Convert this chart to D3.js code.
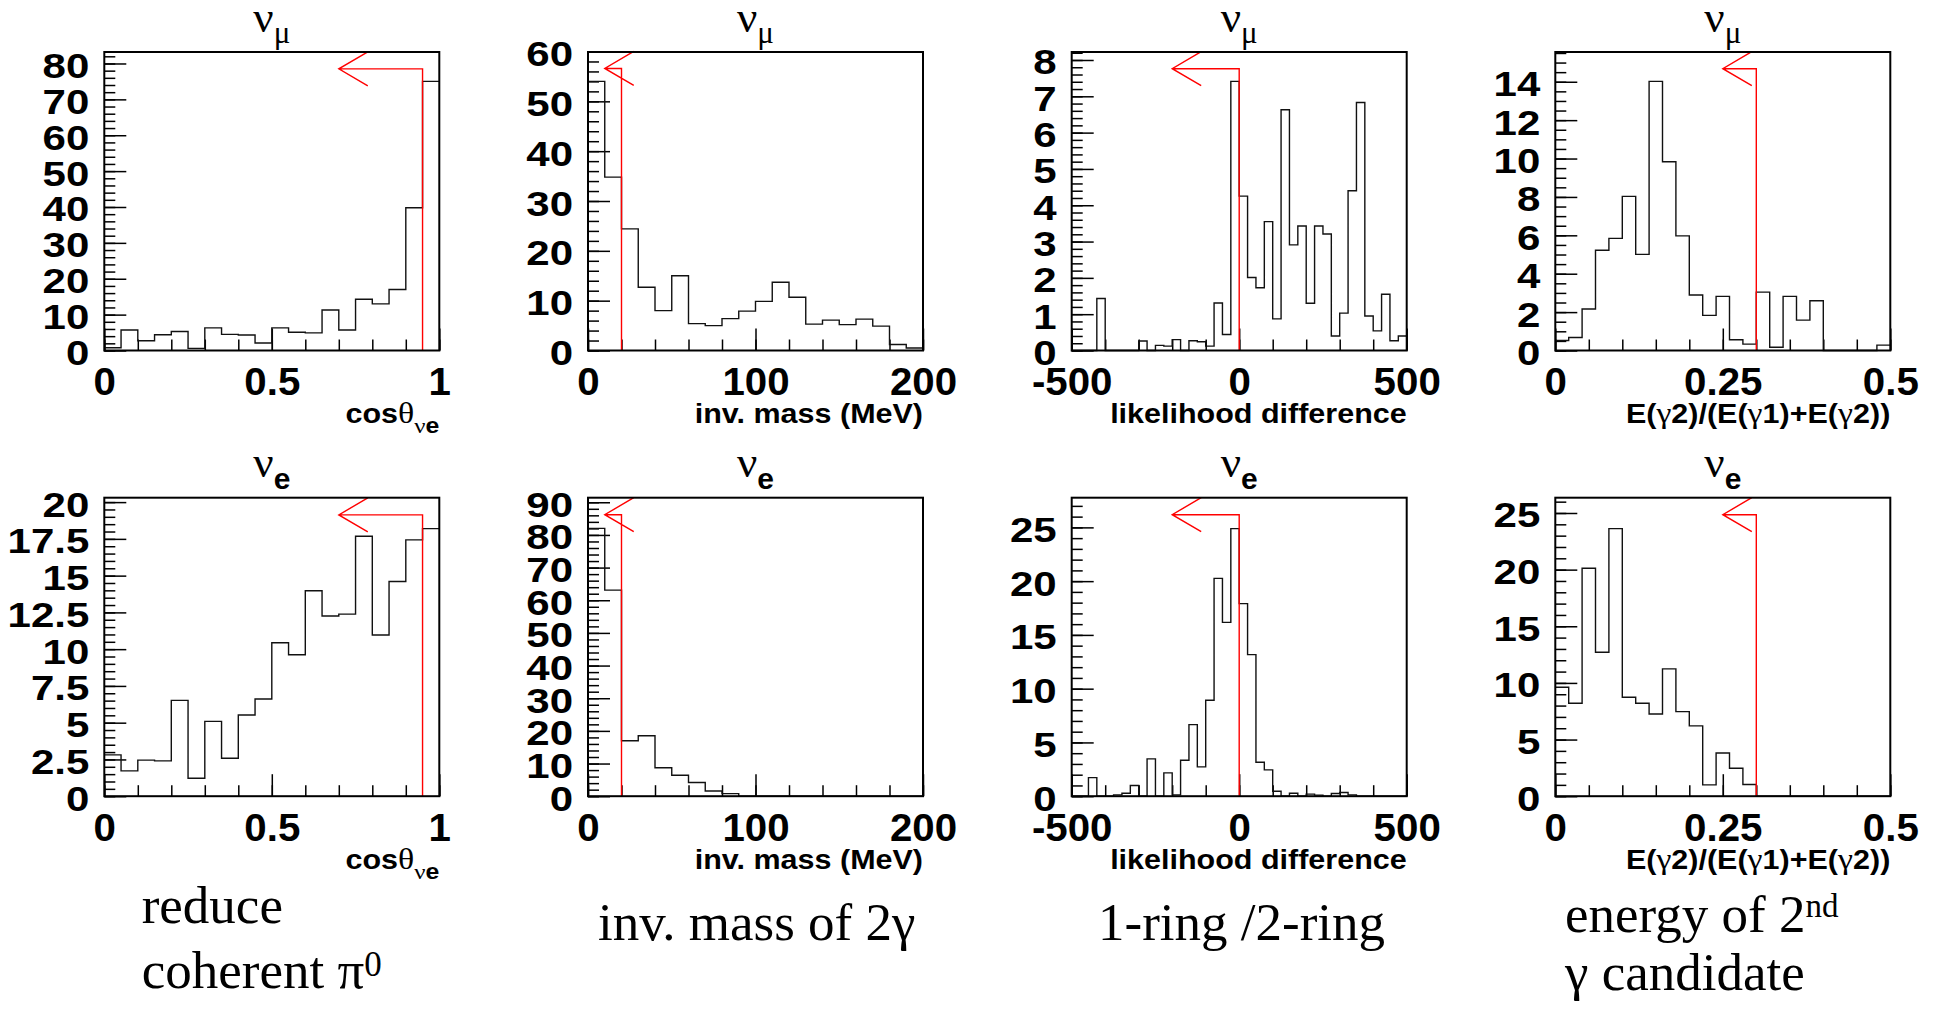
<!DOCTYPE html>
<html>
<head>
<meta charset="utf-8">
<script src="https://cdn.jsdelivr.net/npm/d3@7"></script>
<style>
  body { margin: 0; background: #fff; }
  svg { display: block; }
</style>
</head>
<body>
<div id="chart"></div>
<script>
// bin contents
const cosNumu  = [0.75, 5.7, 2.7, 4.4, 5.3, 0.6, 6.3, 4.5, 4.3, 2.1, 6.3, 5.1, 4.9, 11.3, 5.7, 14.3, 13.0, 17.0, 39.8, 75.0];
const cosNue   = [2.81, 1.72, 2.45, 2.40, 6.52, 1.22, 5.09, 2.58, 5.52, 6.61, 10.44, 9.62, 13.97, 12.25, 12.38, 17.68, 10.96, 14.60, 17.43, 18.20];
const massNumu = [54.0, 34.8, 24.4, 12.7, 8.0, 15.0, 5.4, 5.0, 6.4, 7.9, 9.85, 13.7, 10.7, 5.3, 6.1, 5.2, 6.3, 4.9, 1.2, 0.5];
const massNue  = [82.0, 63.1, 17.0, 18.5, 8.7, 6.4, 4.2, 1.6, 0.8, 0, 0, 0, 0, 0, 0, 0, 0, 0, 0, 0];
const likeNumu = [0, 0, 0, 1.43, 0, 0, 0, 0, 0.26, 0, 0.14, 0.12, 0.30, 0, 0.27, 0.24, 0.12, 1.31, 0.44, 7.41,
                  4.25, 2.01, 1.73, 3.55, 0.87, 6.63, 2.91, 3.43, 1.30, 3.43, 3.21, 0.40, 1.03, 4.40, 6.83, 0.95, 0.54, 1.55, 0.27, 0.40];
const likeNue  = [0, 0, 1.73, 0, 0, 0.12, 0.28, 0.99, 0, 3.47, 0, 2.17, 0.12, 3.35, 6.66, 2.73, 8.92, 20.26, 16.17, 24.88,
                  17.91, 13.17, 3.16, 2.45, 0.46, 0, 0.28, 0, 0.19, 0.1, 0, 0.25, 0.34, 0.12, 0, 0, 0, 0, 0, 0];
const e2Numu   = [0.52, 0.68, 2.16, 5.22, 5.84, 8.03, 5.01, 14.02, 9.83, 5.97, 2.89, 1.83, 2.82, 0.56, 0.33, 3.04, 0.17, 2.82, 1.58, 2.59, 0, 0, 0, 0, 0.28];
const e2Nue    = [9.62, 8.21, 20.12, 12.71, 23.62, 8.74, 8.21, 7.26, 11.24, 7.47, 6.21, 1.0, 3.82, 2.47, 1.03, 0, 0, 0, 0, 0, 0, 0, 0, 0, 0];

// per column (variable)
const xDomains   = [[0, 1], [0, 200], [-500, 500], [0, 0.5]];
const xMajor     = [[0, 0.5, 1], [0, 100, 200], [-500, 0, 500], [0, 0.25, 0.5]];
const xMinorStep = [0.1, 20, 100, 0.05];
const cutValues  = [0.95, 20, 0, 0.3];
const arrowTo    = [0.70, 10, -200, 0.25];

// per panel, numu row then nue row
const yMax       = [83.2, 59.9, 8.22, 15.55, 20.3, 91.4, 27.76, 26.35];
const cutHeight  = [78.5, 56.6, 7.76, 14.68, 19.13, 86.2, 26.18, 24.85];
const yMajor = [
  [0, 10, 20, 30, 40, 50, 60, 70, 80],
  [0, 10, 20, 30, 40, 50, 60],
  [0, 1, 2, 3, 4, 5, 6, 7, 8],
  [0, 2, 4, 6, 8, 10, 12, 14],
  [0, 2.5, 5, 7.5, 10, 12.5, 15, 17.5, 20],
  [0, 10, 20, 30, 40, 50, 60, 70, 80, 90],
  [0, 5, 10, 15, 20, 25],
  [0, 5, 10, 15, 20, 25]
];
const yMinorStep = [2, 2, 0.2, 0.5, 0.5, 2, 1, 1];

const flavours = ["μ", "e"];
// axis titles: [text, kind] kind: "" sans bold, "g" greek serif, "sub" subscript
const xTitles = [
  [["cos", ""], ["θ", "g"], ["ν", "gsub"], ["e", "sub"]],
  [["inv. mass (MeV)", ""]],
  [["likelihood difference", ""]],
  [["E(", ""], ["γ", "g"], ["2)/(E(", ""], ["γ", "g"], ["1)+E(", ""], ["γ", "g"], ["2))", ""]]
];
const captions = [
  [["reduce"], ["coherent π", "0"]],
  [["inv. mass of 2γ"]],
  [["1-ring /2-ring"]],
  [["energy of 2", "nd"], ["γ candidate"]]
];

const hists = [[cosNumu, massNumu, likeNumu, e2Numu], [cosNue, massNue, likeNue, e2Nue]];

// layout
const W = 1934, H = 1015;
const colX = [104.3, 588, 1071.7, 1555.3];
const rowY = [52, 497.7];
const fw = 335, fh = 298.5;
const sans = "'Liberation Sans', Arial, sans-serif";
const serif = "'Liberation Serif', 'Times New Roman', serif";

const svg = d3.select("#chart").append("svg")
  .attr("width", W).attr("height", H)
  .style("background", "#fff");

function steps(max, step) {
  const n = Math.floor(max / step + 1e-6);
  return d3.range(0, n + 1).map(k => +(k * step).toFixed(6));
}

hists.forEach((row, r) => row.forEach((vals, c) => {
  const i = r * 4 + c;
  const g = svg.append("g").attr("transform", `translate(${colX[c]},${rowY[r]})`);
  const [x0, x1] = xDomains[c];
  const x = d3.scaleLinear().domain(xDomains[c]).range([0, fw]);
  const y = d3.scaleLinear().domain([0, yMax[i]]).range([fh, 0]);

  // y ticks (drawn inside frame)
  const yMinor = g.append("g").call(d3.axisLeft(y).tickValues(steps(yMax[i], yMinorStep[i])).tickSize(-11).tickFormat(""));
  const yAx = g.append("g").call(d3.axisLeft(y).tickValues(yMajor[i]).tickSize(-22).tickPadding(12.5).tickFormat(d => String(d)));
  // x ticks
  const xMinorVals = steps(x1 - x0, xMinorStep[c]).map(v => +(v + x0).toFixed(6));
  const xMinor = g.append("g").attr("transform", `translate(0,${fh})`)
    .call(d3.axisBottom(x).tickValues(xMinorVals).tickSize(-11).tickFormat(""));
  const xAx = g.append("g").attr("transform", `translate(0,${fh})`)
    .call(d3.axisBottom(x).tickValues(xMajor[c]).tickSize(-22).tickFormat(d => String(d)));

  [yMinor, yAx, xMinor, xAx].forEach(a => {
    a.select(".domain").remove();
    a.selectAll(".tick line").attr("stroke", "#000").attr("stroke-width", 1.5);
  });
  yAx.selectAll("text")
    .attr("font-family", sans).attr("font-weight", "bold").attr("font-size", 35)
    .attr("fill", "#000").attr("dy", "0.4em")
    .attr("transform", "scale(1.2,1)");
  xAx.selectAll("text")
    .attr("font-family", sans).attr("font-weight", "bold").attr("font-size", 38)
    .attr("fill", "#000").attr("y", 44.5).attr("dy", 0)
    .attr("transform", "scale(1.06,1)");

  // histogram outline
  const bw = (x1 - x0) / vals.length;
  const pts = vals.map((v, k) => [x0 + k * bw, v]);
  pts.push([x1, vals[vals.length - 1]]);
  g.append("path")
    .attr("d", d3.line().x(d => x(d[0])).y(d => y(d[1])).curve(d3.curveStepAfter)(pts))
    .attr("fill", "none").attr("stroke", "#111").attr("stroke-width", 1.4);

  // cut line with arrow
  const cx = x(cutValues[c]), cy = y(cutHeight[i]), ax = x(arrowTo[c]);
  g.append("path")
    .attr("d", `M${cx},${fh}V${cy}H${ax}M${ax + 29},${cy - 17}L${ax},${cy}L${ax + 29},${cy + 17}`)
    .attr("fill", "none").attr("stroke", "#f00").attr("stroke-width", 1.4);

  // frame
  g.append("rect").attr("width", fw).attr("height", fh)
    .attr("fill", "none").attr("stroke", "#000").attr("stroke-width", 2);

  // title nu_mu / nu_e
  const t = g.append("text").attr("x", fw / 2).attr("y", -20.5).attr("text-anchor", "middle").attr("fill", "#000");
  t.append("tspan").attr("font-family", serif).attr("font-size", 45).text("ν");
  if (r === 0) {
    t.append("tspan").attr("font-family", serif).attr("font-size", 31).attr("dy", 11.5).text(flavours[r]);
  } else {
    t.append("tspan").attr("font-family", sans).attr("font-weight", "bold").attr("font-size", 30).attr("dy", 12).text(flavours[r]);
  }

  // x axis title, right aligned
  const tg = g.append("g").attr("transform", `translate(${fw},${fh + 72.5})`);
  const tt = tg.append("text").attr("text-anchor", "end").attr("transform", "scale(1.13,1)").attr("fill", "#000");
  let inSub = false;
  xTitles[c].forEach(([s, kind]) => {
    const sp = tt.append("tspan").text(s);
    const isSub = kind.includes("sub");
    if (isSub && !inSub) sp.attr("dy", 10);
    inSub = isSub;
    if (kind.startsWith("g")) sp.attr("font-family", serif).attr("font-size", isSub ? 22 : 30);
    else sp.attr("font-family", sans).attr("font-weight", "bold").attr("font-size", isSub ? 22 : 27);
  });
}));

// captions under the plots
const capX = [141.7, 598, 1098, 1565];
const capY = [[923.3, 988.3], [940], [940], [931.7, 990]];
captions.forEach((lines, c) => lines.forEach((parts, l) => {
  const t = svg.append("text").attr("x", capX[c]).attr("y", capY[c][l])
    .attr("font-family", serif).attr("font-size", 53).attr("fill", "#000");
  t.append("tspan").text(parts[0]);
  if (parts[1]) {
    const zero = parts[1] === "0";
    t.append("tspan").attr("font-size", zero ? 35 : 33).attr("dy", zero ? -12 : -15).text(parts[1]);
  }
}));
</script>
</body>
</html>
